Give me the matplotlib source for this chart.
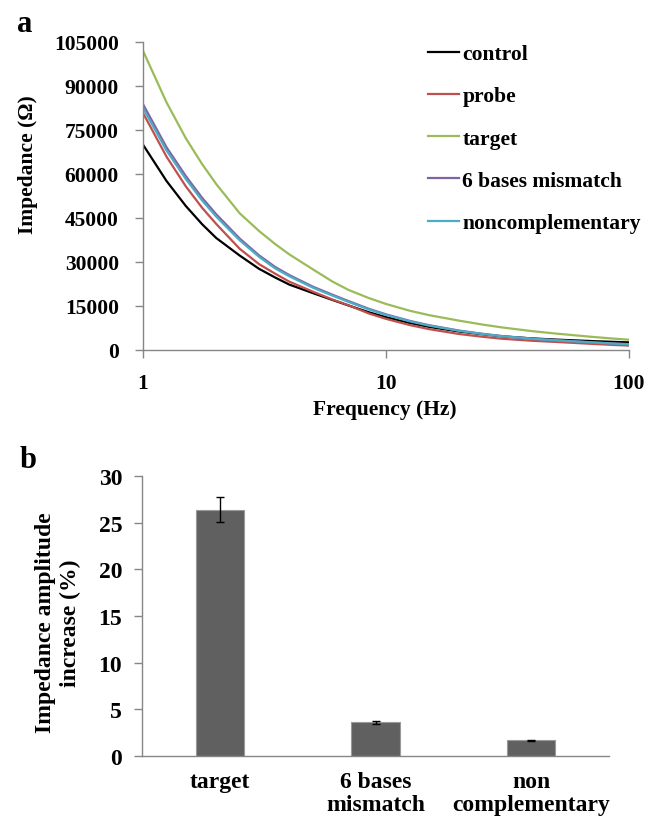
import matplotlib
matplotlib.use("Agg")
import matplotlib.pyplot as plt
import numpy as np

# ---------------- data ----------------
freq = [1, 1.25, 1.5, 1.75, 2, 2.5, 3, 3.5, 4, 5, 6, 7, 8.5, 10, 12.5, 15, 20, 25, 30, 40, 50, 70, 85, 100]
control = [70000, 57600, 49100, 42900, 38200, 32200, 27700, 24700, 22300, 19400, 17100, 15200,
           12860, 11190, 9230, 7890, 6300, 5350, 4650, 3950, 3550, 3050, 2800, 2600]
probe = [80800, 65900, 55800, 48500, 43000, 34500, 29300, 26000, 23300, 19900, 17250, 15270,
         12450, 10620, 8520, 7130, 5450, 4500, 3840, 3140, 2750, 2100, 1750, 1500]
target = [102000, 84400, 72200, 63400, 56600, 46600, 40600, 36100, 32600, 27500, 23400, 20500,
          17700, 15700, 13400, 11900, 10000, 8660, 7700, 6420, 5600, 4500, 3930, 3500]
mismatch6 = [83800, 69100, 59300, 51900, 46300, 38000, 32300, 28300, 25550, 21600, 18900, 16700,
             14050, 12150, 9950, 8470, 6620, 5520, 4760, 3880, 3350, 2640, 2250, 2000]
noncomp = [82500, 68000, 58300, 51000, 45500, 37400, 31800, 27800, 25150, 21250, 18600, 16420,
           13820, 11960, 9800, 8340, 6520, 5440, 4690, 3820, 3300, 2600, 2210, 1930]

series_names = ["control", "probe", "target", "6 bases mismatch", "noncomplementary"]
series_colors = ["#000000", "#C0504D", "#9BBB59", "#8064A2", "#4BACC6"]

bar_categories = ["target", "6 bases\nmismatch", "non\ncomplementary"]
bar_values = [26.4, 3.62, 1.68]
bar_errors = [1.3, 0.17, 0.05]

yticks_a = [0, 15000, 30000, 45000, 60000, 75000, 90000, 105000]
xticks_a = [1, 10, 100]
xticklabels_a = ["1", "10", "100"]
yticks_b = [0, 5, 10, 15, 20, 25, 30]

# ---------------- style ----------------
W, H = 657, 820
plt.rcParams["font.family"] = ["Liberation Serif", "DejaVu Serif"]
plt.rcParams["font.weight"] = "bold"
GREY = "#868686"

fig = plt.figure(figsize=(W / 100, H / 100), dpi=100)


def fx(px):
    return px / W


def fy(py):
    return 1 - py / H


# ---------------- panel a ----------------
axa = fig.add_axes([fx(143), fy(351), fx(629) - fx(143), fy(43) - fy(351)])
all_series = [control, probe, target, mismatch6, noncomp]
for name, vals, col in zip(series_names, all_series, series_colors):
    axa.plot(freq, vals, color=col, lw=1.6, label=name, solid_joinstyle="round")

axa.set_xscale("log")
axa.set_xlim(1, 100)
axa.set_ylim(0, 105000)
axa.set_yticks(yticks_a)
axa.set_yticklabels([str(v) for v in yticks_a])
axa.set_xticks(xticks_a)
axa.set_xticklabels(xticklabels_a)
axa.xaxis.set_minor_locator(matplotlib.ticker.NullLocator())
for s in ["top", "right"]:
    axa.spines[s].set_visible(False)
for s in ["left", "bottom"]:
    axa.spines[s].set_color(GREY)
    axa.spines[s].set_linewidth(1.0)
axa.tick_params(axis="both", direction="out", length=5.8, width=1.0, color=GREY,
                labelsize=15.5)
axa.tick_params(axis="y", pad=11.5)
axa.tick_params(axis="x", pad=10.5)
for lab in axa.get_xticklabels() + axa.get_yticklabels():
    lab.set_fontweight("bold")

leg = axa.legend(loc="upper left", bbox_to_anchor=(fx(428), fy(45)),
                 bbox_transform=fig.transFigure, frameon=False,
                 prop={"size": 15.5, "weight": "bold"},
                 handlelength=1.45, handletextpad=0.15, labelspacing=1.03,
                 borderpad=0, borderaxespad=0)

fig.text(fx(385), fy(410), "Frequency (Hz)", ha="center", va="center",
         fontsize=15.5, fontweight="bold")
fig.text(fx(28), fy(165), "Impedance (Ω)", ha="center", va="center",
         rotation=90, fontsize=15.5, fontweight="bold")
fig.text(fx(25), fy(25), "a", ha="center", va="center", fontsize=22, fontweight="bold")

# ---------------- panel b ----------------
axb = fig.add_axes([fx(142), fy(757), fx(609) - fx(142), fy(477) - fy(757)])
xpos = np.arange(len(bar_categories))
axb.bar(xpos, bar_values, width=0.31, color="#606060", edgecolor="#9a9a9a",
        linewidth=0.8, yerr=bar_errors, capsize=3,
        error_kw={"ecolor": "black", "elinewidth": 1.0, "capthick": 1.0})
axb.set_xlim(-0.5, len(bar_categories) - 0.5)
axb.set_ylim(0, 30)
axb.set_yticks(yticks_b)
axb.set_xticks(xpos)
axb.set_xticklabels(bar_categories, linespacing=1.1)
for s in ["top", "right"]:
    axb.spines[s].set_visible(False)
for s in ["left", "bottom"]:
    axb.spines[s].set_color(GREY)
    axb.spines[s].set_linewidth(1.0)
axb.tick_params(axis="y", direction="out", length=5.8, width=1.0, color=GREY,
                labelsize=17, pad=8.5)
axb.tick_params(axis="x", length=0, labelsize=17, pad=11)
for lab in axb.get_xticklabels() + axb.get_yticklabels():
    lab.set_fontweight("bold")

fig.text(fx(58), fy(623), "Impedance amplitude\nincrease (%)", ha="center",
         va="center", rotation=90, fontsize=17, fontweight="bold",
         linespacing=1.25, multialignment="center")
fig.text(fx(28), fy(460), "b", ha="center", va="center", fontsize=22, fontweight="bold")

fig.savefig("out.png", dpi=100)
